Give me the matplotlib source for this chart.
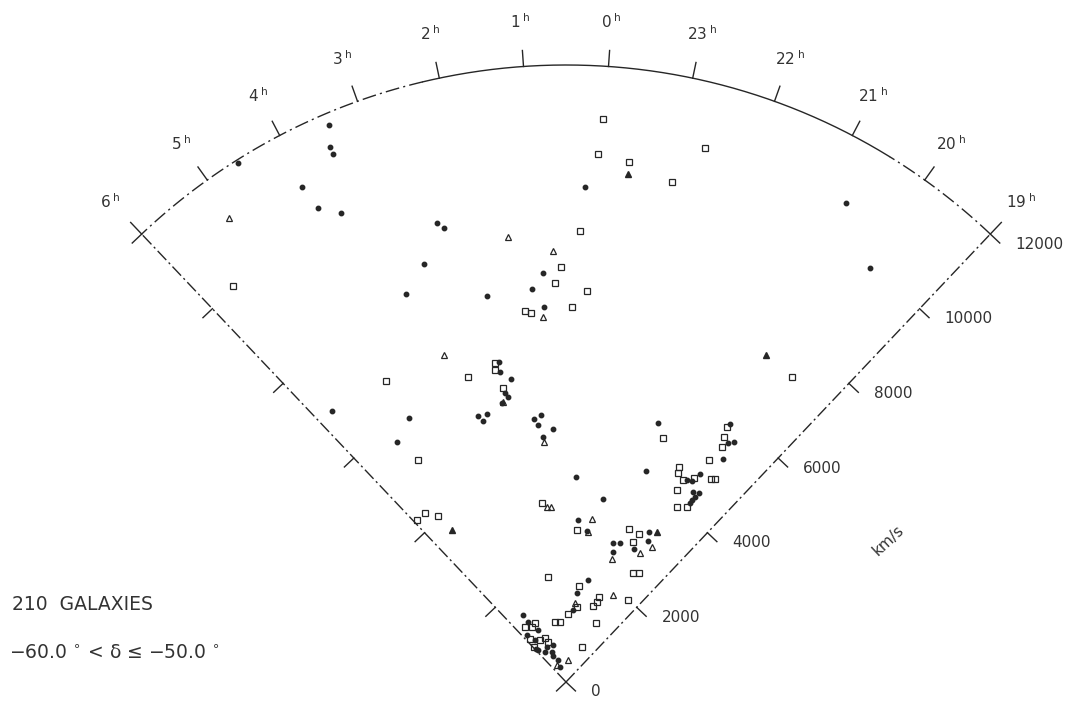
import numpy as np
import matplotlib.pyplot as plt

# wedge geometry: degrees of arc per hour of RA, RA at the vertical, outer velocity
DEG_PER_HOUR = 7.9
RA_MID = 0.5
V_MAX = 12000.0

hour_ticks = [19, 20, 21, 22, 23, 0, 1, 2, 3, 4, 5, 6]
velocity_ticks = [0, 2000, 4000, 6000, 8000, 10000, 12000]

# galaxies: right ascension (hours) and velocity (km/s)
dot_ra = [4.59, 3.42, 3.51, 3.51, 4.05, 4.00, 3.74, 0.22, 2.48, 2.40,
          20.67, 19.91, 2.87, 3.33, 1.96, 0.91, 1.13, 0.93, 5.66, 4.39,
          4.95, 1.99, 2.02, 1.80, 2.01, 1.96, 2.13, 2.81, 2.73, 2.58,
          1.38, 1.18, 1.29, 0.87, 1.18, 0.15, 22.03, 20.40, 20.18, 20.07,
          20.05, 21.88, 20.44, 20.59, 20.35, 20.23, 20.05, 20.11, 20.08, 20.11,
          23.05, 23.96, 23.50, 20.84, 22.14, 21.81, 20.68, 21.98, 21.07, 22.96,
          23.61, 23.80, 4.63, 4.59, 4.08, 5.52, 5.11, 2.94, 4.11, 5.80,
          5.72, 4.93, 3.66, 3.86, 3.03, 3.26]
dot_v = [11950, 11780, 11370, 11230, 10910, 10410, 10120, 9640, 9270, 9140,
         10790, 9990, 8590, 8160, 7660, 7970, 7670, 7310, 6960, 5970,
         5710, 6360, 6160, 5990, 5750, 5660, 5570, 5450, 5330, 5430,
         5150, 5220, 5030, 4930, 4790, 3990, 5350, 5950, 5620, 5700,
         5310, 4390, 4610, 4580, 4810, 4450, 4500, 4310, 4390, 4240,
         3630, 3160, 2970, 3330, 2850, 2900, 3170, 2690, 2910, 2030,
         1740, 1410, 1550, 1380, 1150, 1190, 1020, 760, 780, 870,
         830, 710, 640, 570, 460, 310]

square_ra = [0.02, 0.06, 23.63, 22.99, 22.65, 0.28, 0.59, 0.70, 0.11, 0.38,
             1.30, 1.19, 5.57, 4.41, 2.75, 2.09, 2.12, 2.03, 4.76, 5.90,
             5.54, 5.26, 21.76, 20.42, 20.35, 20.25, 20.35, 20.99, 20.93, 20.70,
             20.44, 20.00, 19.91, 20.70, 20.40, 20.11, 1.47, 23.98, 21.67, 21.18,
             21.26, 20.50, 20.22, 19.80, 1.73, 23.52, 21.81, 21.82, 22.02, 23.44,
             0.29, 1.82, 1.22, 21.09, 21.39, 5.15, 4.51, 4.01, 5.55, 4.52,
             3.73, 3.56, 5.88, 19.87]
square_v = [10970, 10290, 10190, 9940, 10730, 8780, 8070, 7760, 7620, 7290,
            7260, 7210, 10060, 6820, 6230, 6360, 6220, 5850, 5190, 4280,
            4280, 4080, 5110, 5870, 5670, 5490, 5140, 4720, 4610, 4540,
            4680, 4850, 4900, 4310, 4030, 4140, 3510, 2960, 3220, 3210,
            3020, 2490, 2550, 2000, 2070, 1880, 1770, 1670, 1570, 1470,
            1320, 1190, 1170, 1290, 750, 1330, 1260, 1300, 1090, 960,
            950, 850, 935, 7380]

triangle_ra = [5.06, 1.44, 0.72, 0.96, 3.08, 2.11, 1.16, 1.28, 1.12, 23.35,
               23.44, 20.72, 20.39, 21.91, 20.91, 23.68, 23.84, 4.03]
triangle_v = [11150, 8730, 8390, 7110, 6790, 5580, 4690, 3420, 3420, 3210,
              2950, 2890, 3110, 2550, 1920, 1550, 430, 370]

filled_tri_ra = [23.62, 20.55, 5.17, 20.52]
filled_tri_v = [9950, 3410, 3700, 7460]

INK = '#262626'
TEXT = '#333333'
PX = V_MAX / 617.0   # km/s per output pixel


def wedge_angle(ra):
    ra = np.asarray(ra, dtype=float)
    ra = np.where(ra > 12, ra - 24, ra)
    return np.radians((ra - RA_MID) * DEG_PER_HOUR)


def wedge_xy(ra, v):
    a = wedge_angle(ra)
    v = np.asarray(v, dtype=float)
    return -v * np.sin(a), v * np.cos(a)


fig = plt.figure(figsize=(10.72, 7.08), dpi=100)
ax = fig.add_axes([0, 0, 1, 1])
ax.set_xlim(-566 * PX, (1072 - 566) * PX)
ax.set_ylim(-(708 - 682) * PX, 682 * PX)
ax.axis('off')

dashdot = (0, (9, 2.5, 1.5, 2.5))

# the two straight edges
for ra_edge in (6, 19):
    x, y = wedge_xy([ra_edge, ra_edge], [0, V_MAX])
    ax.plot(x, y, color=INK, lw=1.0, linestyle=dashdot)

# outer arc, solid in the middle and broken towards the corners
ra_solid = np.linspace(-3.5, 2.2, 200)
x, y = wedge_xy(ra_solid, np.full_like(ra_solid, V_MAX))
ax.plot(x, y, color=INK, lw=1.0)
for lo, hi in ((2.2, 6.0), (-5.0, -3.5)):
    ra_seg = np.linspace(lo, hi, 120)
    x, y = wedge_xy(ra_seg, np.full_like(ra_seg, V_MAX))
    ax.plot(x, y, color=INK, lw=1.0, linestyle=(0, (10, 3, 1.5, 3)))

# hour ticks and labels
for h in hour_ticks:
    x, y = wedge_xy([h, h], [V_MAX, V_MAX + 16 * PX])
    ax.plot(x, y, color=INK, lw=1.0)
    lx, ly = wedge_xy(h, V_MAX + 45 * PX)
    ax.text(lx, ly, '{}$^{{\\;\\rm h}}$'.format(h), ha='center', va='center',
            fontsize=11, color=TEXT)

# velocity ticks on both edges, labels on the right one
for ra_edge in (6, 19):
    a = float(wedge_angle(ra_edge))
    s = np.sign(a)
    nx, ny = -s * np.cos(a), -s * np.sin(a)
    for v in velocity_ticks:
        x0, y0 = wedge_xy(ra_edge, v)
        ax.plot([x0, x0 + nx * 13 * PX], [y0, y0 + ny * 13 * PX],
                color=INK, lw=1.0)
        if ra_edge == 19:
            ax.text(x0 + 25 * PX, y0 - 10 * PX, '{:d}'.format(v),
                    ha='left', va='center', fontsize=11, color=TEXT)

ax.text((888 - 566) * PX, (682 - 540) * PX, 'km/s', rotation=43,
        ha='center', va='center', fontsize=11, color=TEXT)

# galaxies
x, y = wedge_xy(dot_ra, dot_v)
ax.plot(x, y, 'o', ms=3.2, color=INK, mec=INK)
x, y = wedge_xy(square_ra, square_v)
ax.plot(x, y, 's', ms=4.6, mfc='none', mec=INK, mew=0.9)
x, y = wedge_xy(triangle_ra, triangle_v)
ax.plot(x, y, '^', ms=5.0, mfc='none', mec=INK, mew=0.9)
x, y = wedge_xy(filled_tri_ra, filled_tri_v)
ax.plot(x, y, '^', ms=4.2, color=INK, mec=INK)

fig.text(12 / 1072, 1 - 605 / 708, '210  GALAXIES', ha='left', va='center',
         fontsize=13.5, color=TEXT)
fig.text(9 / 1072, 1 - 652 / 708,
         '\u221260.0 $^{\\circ}$ < \u03b4 \u2264 \u221250.0 $^{\\circ}$',
         ha='left', va='center', fontsize=13.5, color=TEXT)

fig.savefig('out.png', dpi=100)
